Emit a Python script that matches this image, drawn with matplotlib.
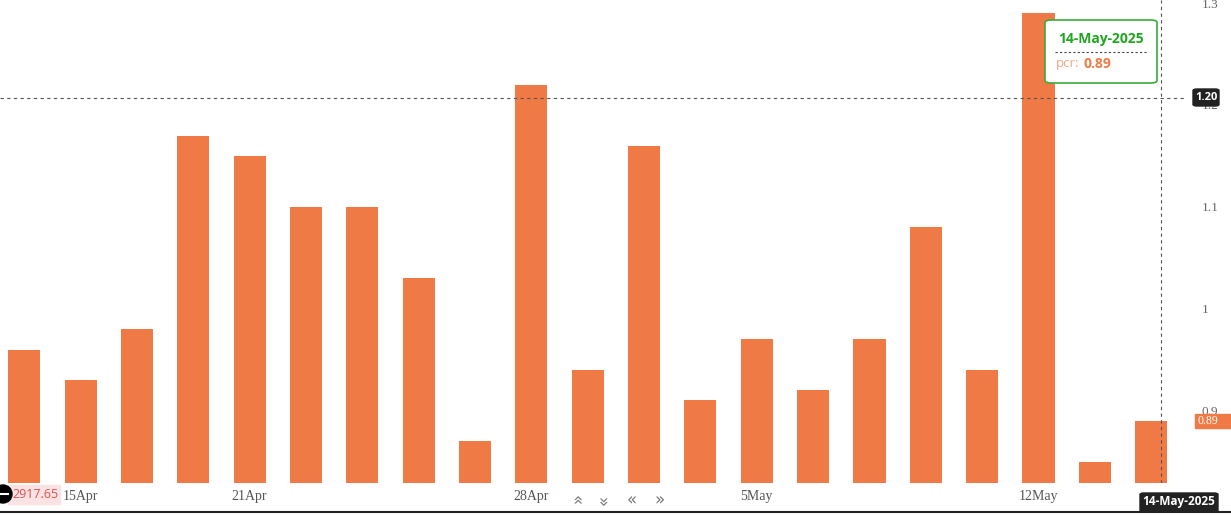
import matplotlib.pyplot as plt
from matplotlib.patches import FancyBboxPatch, Rectangle, Ellipse
from matplotlib.lines import Line2D

# trading days and put-call ratio
dates = ['11Apr', '15Apr', '16Apr', '17Apr', '21Apr', '22Apr', '23Apr', '24Apr', '25Apr',
         '28Apr', '29Apr', '30Apr', '2May', '5May', '6May', '7May', '8May', '9May',
         '12May', '13May', '14May']
pcr = [0.96, 0.93, 0.98, 1.17, 1.15, 1.10, 1.10, 1.03, 0.87,
       1.22, 0.94, 1.16, 0.91, 0.97, 0.92, 0.97, 1.08, 0.94,
       1.29, 0.85, 0.89]
labelled = ['15Apr', '21Apr', '28Apr', '5May', '12May']
y_ticks = [0.9, 1.0, 1.1, 1.2, 1.3]
y_tick_labels = ['0.9', '1', '1.1', '1.2', '1.3']
cross_y = 1.207

W, H = 1231, 515
fig = plt.figure(figsize=(W / 100, H / 100), dpi=100)
ax = fig.add_axes([0, 32 / H, 1185 / W, 1 - 32 / H])

bar_col = '#EF7A45'
x = list(range(len(dates)))
ax.bar(x, [v - 0.7 for v in pcr], bottom=0.7, width=0.57, color=bar_col, zorder=2)

ax.set_xlim(-0.43, 20.6)
ax.set_ylim(0.829, 1.303)
for s in ax.spines.values():
    s.set_visible(False)

ax.set_xticks([dates.index(d) for d in labelled])
ax.set_xticklabels(labelled, family='Liberation Serif', fontsize=10, color='#555555')
ax.tick_params(axis='x', length=0, pad=5)
ax.yaxis.tick_right()
ax.set_yticks(y_ticks)
ax.set_yticklabels(y_tick_labels, family='Liberation Serif', fontsize=9.5, color='#666666')
ax.tick_params(axis='y', length=0, pad=12)

# crosshair
ax.axhline(cross_y, color='#555555', lw=0.8, ls=(0, (3, 3)), zorder=3)
ax.axvline(20.18, color='#555555', lw=0.8, ls=(0, (3, 3)), zorder=3)

# y crosshair label
fig.patches.append(FancyBboxPatch((1193 / W, (H - 106) / H), 26 / W, 17 / H,
                                  boxstyle='round,pad=0,rounding_size=0.003',
                                  transform=fig.transFigure, color='#222222'))
fig.text(1206 / W, (H - 97) / H, '1.20', color='white', fontsize=8, ha='center', va='center',
         family='Open Sans', weight='bold')

# last value label
fig.patches.append(Rectangle((1195 / W, (H - 428) / H), 36 / W, 14 / H,
                             transform=fig.transFigure, color=bar_col))
fig.text(1197 / W, (H - 421) / H, '0.89', color='white', fontsize=8.5, ha='left', va='center',
         family='Liberation Serif')

# x crosshair label
fig.patches.append(FancyBboxPatch((1140 / W, (H - 512) / H), 78 / W, 19 / H,
                                  boxstyle='round,pad=0,rounding_size=0.003',
                                  transform=fig.transFigure, color='#222222'))
fig.text(1179 / W, (H - 502) / H, '14-May-2025', color='white', fontsize=8.5, ha='center',
         va='center', family='Open Sans', weight='bold')

# tooltip
fig.patches.append(FancyBboxPatch((1045 / W, (H - 83) / H), 112 / W, 63 / H,
                                  boxstyle='round,pad=0,rounding_size=0.005',
                                  transform=fig.transFigure, facecolor='white',
                                  edgecolor='#3BAA3B', lw=1.2, zorder=5))
fig.text(1101 / W, (H - 39) / H, '14-May-2025', color='#1FA51F', fontsize=10, ha='center',
         va='center', family='Open Sans', weight='bold', zorder=6)
fig.lines.append(Line2D([1055 / W, 1148 / W], [(H - 52) / H] * 2, transform=fig.transFigure,
                        color='#444444', lw=0.8, ls=(0, (2, 2)), zorder=6))
fig.text(1056 / W, (H - 64) / H, 'pcr:', color='#F0A57F', fontsize=9.5, ha='left',
         va='center', family='Open Sans', zorder=6)
fig.text(1084 / W, (H - 64) / H, '0.89', color='#EF7A45', fontsize=10, ha='left',
         va='center', family='Open Sans', weight='bold', zorder=6)

# bottom left price tag
fig.patches.append(Rectangle((8 / W, (H - 504) / H), 52 / W, 19 / H,
                             transform=fig.transFigure, color='#FCE3E3'))
fig.text(12 / W, (H - 494) / H, '2917.65', color='#E05050', fontsize=9, ha='left',
         va='center', family='Open Sans')
fig.patches.append(Ellipse((3 / W, (H - 494) / H), 18 / W, 18 / H, transform=fig.transFigure,
                           color='black'))
fig.lines.append(Line2D([-2 / W, 8 / W], [(H - 494) / H] * 2, transform=fig.transFigure,
                        color='white', lw=1.5))

# navigation arrows (double chevrons)
for xp, sym, rot in zip([576, 604, 632, 660], ['«', '«', '«', '»'], [-90, 90, 0, 0]):
    fig.text(xp / W, (H - 500) / H, sym, color='#777777', fontsize=12, ha='center',
             va='center', family='DejaVu Sans', rotation=rot)

# bottom border
fig.lines.append(Line2D([0, 1], [(H - 512) / H] * 2, transform=fig.transFigure,
                        color='#222222', lw=1.5))

fig.savefig('out.png', dpi=100)
